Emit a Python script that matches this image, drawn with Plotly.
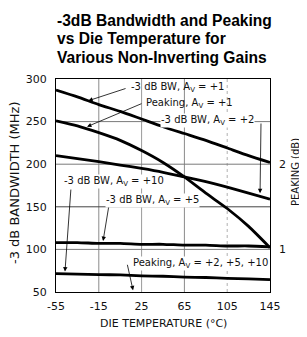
import plotly.graph_objects as go

# ---- data ----
temps = [-55, -35, -15, 5, 25, 45, 65, 85, 105, 125, 145]
bw_av1 = [287, 279, 270, 262, 253, 244, 236, 228, 219, 210, 202]
peak_av1 = [2.51, 2.45, 2.37, 2.28, 2.16, 2.02, 1.85, 1.66, 1.48, 1.27, 1.02]
bw_av2 = [210, 206.5, 203, 199, 195, 190.5, 185, 179.5, 173, 166, 159]
bw_av5 = [108, 108, 107, 107, 106, 106, 105, 105, 104, 104, 103]
bw_av10 = [71.5, 71, 70.5, 70, 69, 68.5, 67.5, 67, 66, 65.5, 64.5]

x_ticks = [-55, -15, 25, 65, 105, 145]
x_ticktext = ["-55", "-15", "25", "65", "105", "145"]
y_ticks = [50, 100, 150, 200, 250, 300]
y2_ticks = [1, 2]

title_lines = ["-3dB Bandwidth and Peaking", "vs Die Temperature for", "Various Non-Inverting Gains"]

# labels: text, text x, text y, arrow tail x, tail y, head x, head y, white bg
labels = [
    ("-3 dB BW, A<sub>V</sub> = +1", 14.2, 290, 11.4, 289.4, -24.8, 274.5, False),
    ("Peaking, A<sub>V</sub> = +1", 28.2, 271.8, 26.3, 271.8, -26, 244, False),
    ("-3 dB BW, A<sub>V</sub> = +2", 42.2, 251, 136.6, 249.5, 135.7, 166, True),
    ("-3 dB BW, A<sub>V</sub> = +10", -48.2, 179.3, -41, 172, -46.6, 74, True),
    ("-3 dB BW, A<sub>V</sub> = +5", -9.2, 157.8, -5.5, 152, -11, 110, True),
    ("Peaking, A<sub>V</sub> = +2, +5, +10", 16, 84, 11.4, 83.7, 17, 52, True),
]

FONT = "DejaVu Sans"
LW = 2.8

fig = go.Figure()
for ys in (bw_av1, bw_av2, bw_av5, bw_av10):
    fig.add_trace(go.Scatter(x=temps, y=ys, mode="lines", line=dict(color="black", width=LW, shape="spline", smoothing=0.6),
                             showlegend=False, hoverinfo="skip"))
fig.add_trace(go.Scatter(x=temps, y=peak_av1, mode="lines", yaxis="y2",
                         line=dict(color="black", width=LW, shape="spline", smoothing=0.6),
                         showlegend=False, hoverinfo="skip"))

shapes = []
# vertical grid lines
for xv, col, dash in [(-15, "#8a8a8a", "solid"), (25, "#9a9a9a", "solid"), (65, "#8a8a8a", "solid"), (105, "#b0b0b0", "dot")]:
    shapes.append(dict(type="line", xref="x", yref="paper", x0=xv, x1=xv, y0=0, y1=1,
                       line=dict(color=col, width=1, dash=dash), layer="below"))
# horizontal grid lines
for yv, col in [(250, "#7a7a7a"), (200, "#7a7a7a"), (150, "#444444"), (100, "#7a7a7a")]:
    shapes.append(dict(type="line", xref="paper", yref="y", x0=0, x1=1, y0=yv, y1=yv,
                       line=dict(color=col, width=1), layer="below"))

annotations = []
for text, tx, ty, ax_, ay_, hx, hy, bg in labels:
    annotations.append(dict(x=hx, y=hy, ax=ax_, ay=ay_, xref="x", yref="y", axref="x", ayref="y",
                            text="", showarrow=True, arrowhead=2, arrowsize=1.1, arrowwidth=0.8,
                            arrowcolor="black", standoff=0, startstandoff=0))
    annotations.append(dict(x=tx, y=ty, xref="x", yref="y", text=text, showarrow=False,
                            xanchor="left", yanchor="middle",
                            font=dict(family=FONT, size=10, color="#111"),
                            bgcolor="white" if bg else "rgba(0,0,0,0)", borderpad=0))

# title, one annotation per line (page y centres 20, 38.5, 57)
for i, line in enumerate(title_lines):
    yc = 20 + 18.5 * i
    annotations.append(dict(x=-0.005, y=1 + (79 - yc) / 213, xref="paper", yref="paper",
                            xanchor="left", yanchor="middle", text="<b>" + line + "</b>",
                            showarrow=False, font=dict(family="Liberation Sans", size=15.6, color="black")))
# axis titles
annotations.append(dict(x=0.5, y=-(323 - 291.7) / 213, xref="paper", yref="paper", xanchor="center", yanchor="middle",
                        text="DIE TEMPERATURE (°C)", showarrow=False,
                        font=dict(family=FONT, size=11, color="#111")))
annotations.append(dict(x=(14 - 56) / 214, y=1 - (183 - 79) / 213, xref="paper", yref="paper",
                        xanchor="center", yanchor="middle", textangle=-90,
                        text="-3 dB BANDWIDTH (MHz)", showarrow=False,
                        font=dict(family=FONT, size=13, color="#111")))
annotations.append(dict(x=(295 - 56) / 214, y=1 - (172 - 79) / 213, xref="paper", yref="paper",
                        xanchor="center", yanchor="middle", textangle=-90,
                        text="PEAKING (dB)", showarrow=False,
                        font=dict(family=FONT, size=10, color="#111")))

# the page body has an 8px default margin, so the figure is 8px smaller
fig.update_layout(
    width=299, height=329,
    margin=dict(l=48, r=37, t=71, b=45),
    paper_bgcolor="white", plot_bgcolor="white",
    showlegend=False,
    xaxis=dict(range=[-55, 145], tickvals=x_ticks, ticktext=x_ticktext, showgrid=False, zeroline=False,
               showline=True, linecolor="black", linewidth=1, mirror=True, ticks="",
               ticklabelstandoff=4, tickfont=dict(family=FONT, size=11, color="#111")),
    yaxis=dict(range=[50, 300], tickvals=y_ticks, showgrid=False, zeroline=False,
               showline=True, linecolor="black", linewidth=1, mirror=True, ticks="",
               ticklabelstandoff=6, tickfont=dict(family=FONT, size=11, color="#111")),
    yaxis2=dict(range=[0.5, 3.0], tickvals=y2_ticks, overlaying="y", side="right", showgrid=False,
                zeroline=False, showline=False, ticks="", ticklabelstandoff=8,
                tickfont=dict(family=FONT, size=11, color="#111")),
    shapes=shapes,
    annotations=annotations,
)

fig.write_html("out.html")
